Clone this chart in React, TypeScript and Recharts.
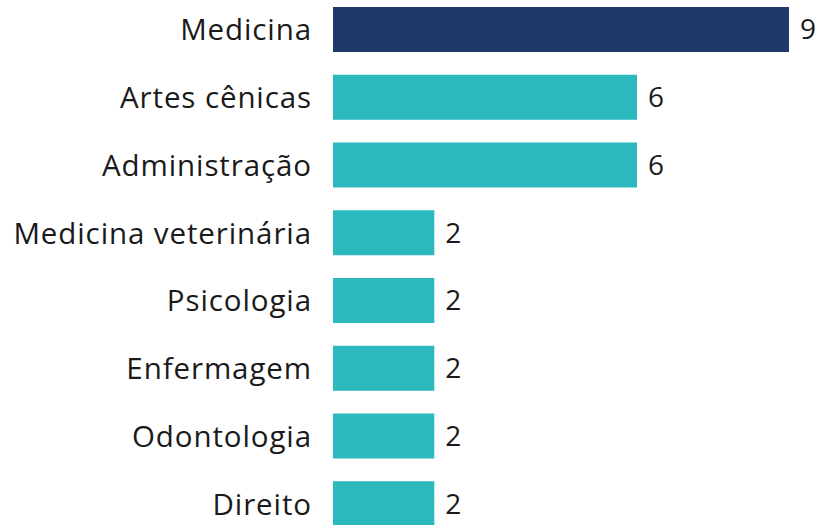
import React from "react";
import { BarChart, Bar, XAxis, YAxis, Cell, LabelList } from "recharts";

const categories = [
  "Medicina",
  "Artes cênicas",
  "Administração",
  "Medicina veterinária",
  "Psicologia",
  "Enfermagem",
  "Odontologia",
  "Direito",
];
const values = [9, 6, 6, 2, 2, 2, 2, 2];
const colors = ["#1F396B", "#2CB9BD", "#2CB9BD", "#2CB9BD", "#2CB9BD", "#2CB9BD", "#2CB9BD", "#2CB9BD"];

const data = categories.map((c, i) => ({ name: c, value: values[i] }));

const FONT = "'Open Sans', sans-serif";

export default function App() {
  return (
    <div style={{ position: "absolute", left: 0, top: -4, width: 817, height: 542 }}>
      <BarChart
        width={817}
        height={542}
        data={data}
        layout="vertical"
        margin={{ top: 0, right: 28, bottom: 0, left: 0 }}
        barSize={45}
      >
        <XAxis type="number" domain={[0, 9]} hide />
        <YAxis
          type="category"
          dataKey="name"
          width={333}
          axisLine={false}
          tickLine={false}
          tickSize={0}
          tickMargin={21}
          interval={0}
          tick={{ fontSize: 29.5, fill: "#1a1a1a", fontFamily: FONT, letterSpacing: 0.9 }}
        />
        <Bar dataKey="value" isAnimationActive={false}>
          {data.map((d, i) => (
            <Cell key={d.name} fill={colors[i]} />
          ))}
          <LabelList
            dataKey="value"
            position="right"
            offset={11}
            style={{ fontSize: 28, fill: "#1a1a1a", fontFamily: FONT }}
          />
        </Bar>
      </BarChart>
    </div>
  );
}
